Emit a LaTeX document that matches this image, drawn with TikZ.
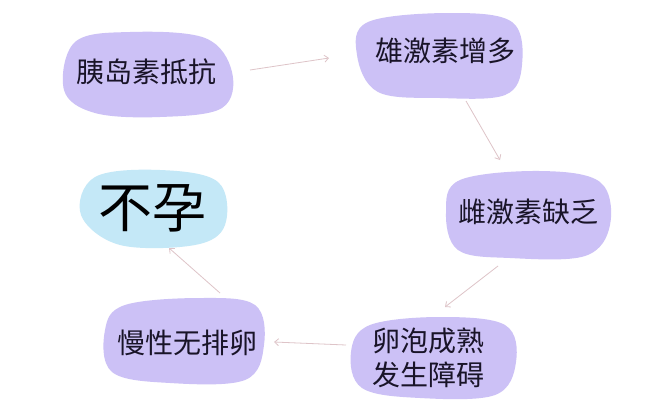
\documentclass[tikz,border=0pt]{standalone}
\usepackage{fontspec}
\usetikzlibrary{arrows.meta}
\newfontfamily\cjk{Noto Sans CJK SC}
\definecolor{lav}{RGB}{204,193,246}
\definecolor{skyb}{RGB}{196,232,247}
\definecolor{arr}{RGB}{222,196,200}
\definecolor{ink}{RGB}{25,20,40}
\begin{document}
\begin{tikzpicture}[x=1pt,y=-1pt,
  blob/.style={fill=lav,draw=none},
  blobb/.style={fill=skyb,draw=none},
  lbl/.style={font=\cjk\fontsize{28}{34}\selectfont,text=ink,align=center,inner sep=0pt},
  big/.style={font=\cjk\fontsize{54}{58}\selectfont,text=black,inner sep=0pt},
  conn/.style={draw=arr,line width=0.8pt,-{Straight Barb[length=4pt,width=7pt]}}]
\useasboundingbox (0,0) rectangle (669,413);
\fill[white] (0,0) rectangle (669,413);
% blobs
\fill[blob] plot[smooth cycle,tension=0.6] coordinates {(75,42) (130,32) (205,38) (232,72) (222,108) (160,117) (95,113) (64,90)};
\fill[blob] plot[smooth cycle,tension=0.6] coordinates {(368,22) (450,13) (512,22) (522,65) (505,95) (440,98) (378,92) (357,55)};
\fill[blob] plot[smooth cycle,tension=0.6] coordinates {(460,180) (540,171) (600,182) (610,225) (585,256) (510,258) (458,250) (446,212)};
\fill[blobb] plot[smooth cycle,tension=0.6] coordinates {(95,177) (160,170) (218,182) (225,225) (195,245) (120,245) (81,215)};
\fill[blob] plot[smooth cycle,tension=0.6] coordinates {(125,305) (200,298) (255,305) (264,345) (245,380) (170,383) (112,372) (105,330)};
\fill[blob] plot[smooth cycle,tension=0.6] coordinates {(370,325) (440,317) (505,325) (516,362) (495,395) (420,398) (362,388) (351,352)};
% labels
\node[lbl] (n1) at (146,72) {胰岛素抵抗};
\node[lbl] (n2) at (445,51) {雄激素增多};
\node[lbl] (n3) at (528,212) {雌激素缺乏};
\node[big] (n4) at (152,208) {不孕};
\node[lbl] (n5) at (187,343) {慢性无排卵};
\node[lbl] (n6) at (428,358) {卵泡成熟\\发生障碍};
% connector ends
\coordinate (a1s) at (250,70); \coordinate (a1e) at (329,58);
\coordinate (a2s) at (466,101); \coordinate (a2e) at (500,160);
\coordinate (a3s) at (498,266); \coordinate (a3e) at (445,307);
\coordinate (a4s) at (346,345); \coordinate (a4e) at (274,342);
\coordinate (a5s) at (220,293); \coordinate (a5e) at (169,248);
\draw[conn] (a1s) -- (a1e);
\draw[conn] (a2s) -- (a2e);
\draw[conn] (a3s) -- (a3e);
\draw[conn] (a4s) -- (a4e);
\draw[conn] (a5s) -- (a5e);
\end{tikzpicture}
\end{document}
